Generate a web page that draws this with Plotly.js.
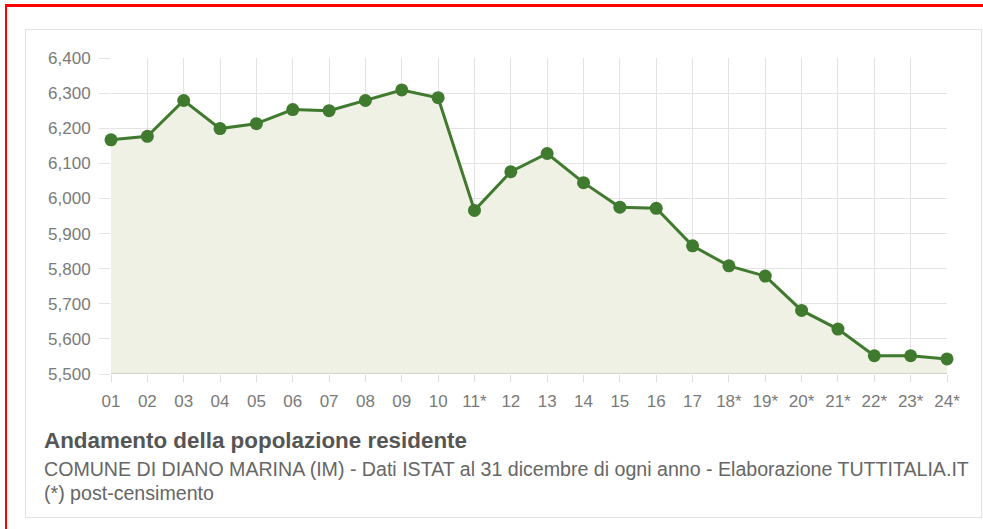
<!DOCTYPE html>
<html>
<head>
<meta charset="utf-8">
<script src="https://cdn.plot.ly/plotly-3.0.1.min.js"></script>
<style>
  html, body { margin: 0; padding: 0; background: #fff; width: 983px; height: 529px; overflow: hidden; }
  #frame { position: absolute; left: 5px; top: 4px; width: 990px; height: 540px; border-left: 2px solid #ff0000; border-top: 3px solid #ff0000; box-sizing: border-box; }
  #box { position: absolute; left: 25px; top: 29px; width: 957px; height: 489px; border: 1px solid #e2e4e4; box-sizing: border-box; }
  #chart { position: absolute; left: 0; top: 0; width: 983px; height: 529px; }
</style>
</head>
<body>
<div id="frame"></div>
<div id="box"></div>
<div id="chart"></div>
<script>
const years = ["01","02","03","04","05","06","07","08","09","10","11*","12","13","14","15","16","17","18*","19*","20*","21*","22*","23*","24*"];
const population = [6167,6177,6279,6199,6213,6253,6250,6279,6309,6287,5966,6076,6128,6045,5975,5972,5865,5808,5779,5681,5628,5552,5552,5543];
const yTicks = [5500,5600,5700,5800,5900,6000,6100,6200,6300,6400];
const yTickLabels = ["5,500","5,600","5,700","5,800","5,900","6,000","6,100","6,200","6,300","6,400"];
const chartTitle = "Andamento della popolazione residente";
const subtitle = "COMUNE DI DIANO MARINA (IM) - Dati ISTAT al 31 dicembre di ogni anno - Elaborazione TUTTITALIA.IT";
const note = "(*) post-censimento";

const font = "Liberation Sans, Arial, sans-serif";

const trace = {
  x: years,
  y: population,
  type: "scatter",
  mode: "lines+markers",
  fill: "tozeroy",
  fillcolor: "rgba(239,241,228,1)",
  line: { color: "#3f7a2e", width: 3 },
  marker: { color: "#3f7a2e", size: 13 },
  cliponaxis: false,
  hoverinfo: "x+y"
};

const layout = {
  width: 983,
  height: 529,
  margin: { l: 111, r: 36, t: 58, b: 155 },
  paper_bgcolor: "rgba(0,0,0,0)",
  plot_bgcolor: "rgba(0,0,0,0)",
  showlegend: false,
  font: { family: font, color: "#7a7a7a", size: 17 },
  xaxis: {
    type: "category",
    categoryorder: "array",
    categoryarray: years,
    range: [0, years.length - 1],
    showgrid: true,
    gridcolor: "#e3e3e3",
    gridwidth: 1,
    ticks: "outside",
    ticklen: 7,
    tickcolor: "#dcdcdc",
    ticklabelstandoff: 5,
    tickfont: { family: font, size: 17, color: "#7a7a7a" },
    showline: false,
    zeroline: false,
    fixedrange: true
  },
  yaxis: {
    range: [5500, 6400],
    tickvals: yTicks,
    ticktext: yTickLabels,
    showgrid: true,
    gridcolor: "#e3e3e3",
    gridwidth: 1,
    ticks: "outside",
    ticklen: 11,
    tickcolor: "#e3e3e3",
    ticklabelstandoff: 5,
    tickfont: { family: font, size: 17, color: "#7a7a7a" },
    zeroline: false,
    showline: false,
    fixedrange: true
  },
  shapes: [
    { type: "line", xref: "paper", yref: "y", x0: 0, x1: 1, y0: 5500, y1: 5500, line: { color: "#d0d3c8", width: 2 } }
  ],
  annotations: [
    { text: "<b>" + chartTitle + "</b>", xref: "paper", yref: "paper", x: -0.0825, y: -0.21, xanchor: "left", yanchor: "middle", showarrow: false, font: { family: font, size: 22.4, color: "#555555" } },
    { text: subtitle, xref: "paper", yref: "paper", x: -0.0825, y: -0.30, xanchor: "left", yanchor: "middle", showarrow: false, font: { family: font, size: 19.6, color: "#666666" } },
    { text: note, xref: "paper", yref: "paper", x: -0.0825, y: -0.378, xanchor: "left", yanchor: "middle", showarrow: false, font: { family: font, size: 19.6, color: "#666666" } }
  ]
};

Plotly.newPlot("chart", [trace], layout, { displayModeBar: false, staticPlot: true });
</script>
</body>
</html>
